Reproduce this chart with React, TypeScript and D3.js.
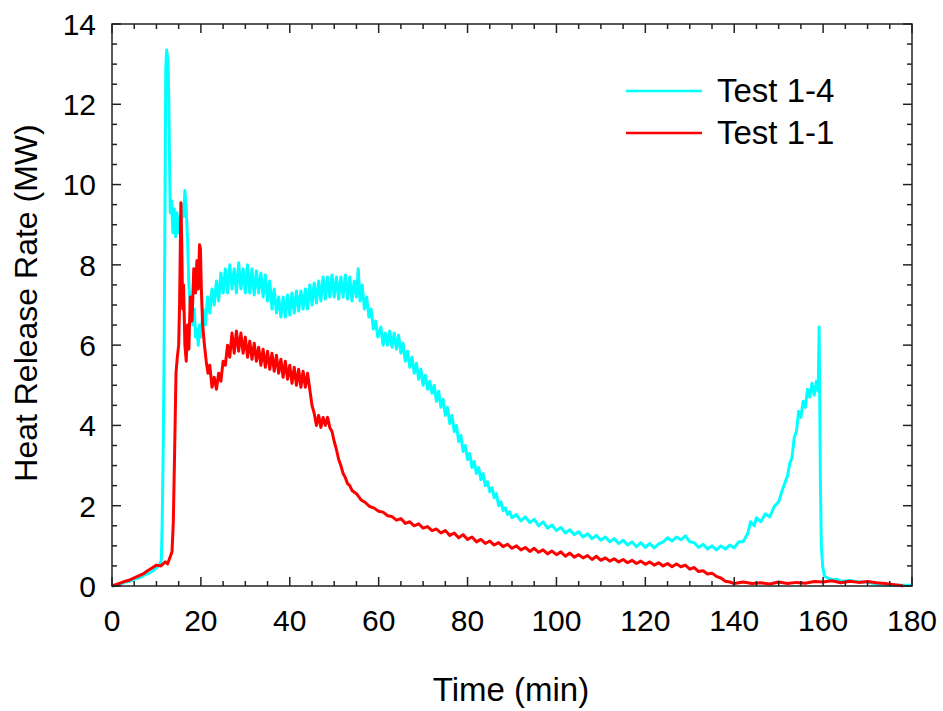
import React, { useEffect, useRef } from 'react';
import * as d3 from 'd3';

// Heat release rate readings, [time (min), HRR (MW)]
const test14: [number, number][] = [
  [0, 0], [1, 0.02], [2, 0.05], [3, 0.1], [4, 0.12], [5, 0.17], [6, 0.2], [7, 0.26], [8, 0.3], [9, 0.36],
  [10, 0.45], [10.8, 0.55], [11.1, 0.65], [11.3, 1.6], [11.5, 3.2], [11.7, 5.5], [11.9, 9.0], [12.1, 12.9],
  [12.3, 13.35], [12.6, 13.1], [12.8, 12.0], [12.95, 10.5], [13.1, 9.3], [13.4, 9.6], [13.7, 8.8], [14.0, 9.4],
  [14.3, 8.7], [14.6, 9.3], [14.9, 8.8], [15.2, 9.2], [15.5, 8.9], [15.8, 9.5], [16.1, 9.2], [16.4, 9.85],
  [16.7, 9.4], [17.0, 8.6], [17.3, 7.5], [17.6, 7.0], [17.9, 6.7], [18.2, 6.5], [18.5, 6.9], [18.8, 6.2],
  [19.1, 6.4], [19.4, 6.0], [19.7, 6.5], [20.0, 6.2], [20.5, 6.9], [21.0, 6.5], [21.5, 7.2], [22, 6.8],
  [22.5, 7.4], [23, 7.0], [23.5, 7.6], [24, 7.1], [24.5, 7.8], [25, 7.3], [25.5, 7.9], [26, 7.3], [26.5, 8.0],
  [27, 7.4], [27.5, 7.9], [28, 7.3], [28.5, 8.05], [29, 7.4], [29.5, 7.9], [30, 7.3], [30.5, 8.0], [31, 7.3],
  [31.5, 7.9], [32, 7.25], [32.5, 7.85], [33, 7.3], [33.5, 7.8], [34, 7.2], [34.5, 7.75], [35, 7.1], [35.5, 7.6],
  [36, 6.9], [36.5, 7.4], [37, 6.8], [37.5, 7.2], [38, 6.7], [38.5, 7.2], [39, 6.7], [39.5, 7.25], [40, 6.75],
  [40.5, 7.3], [41, 6.8], [41.5, 7.35], [42, 6.85], [42.5, 7.35], [43, 6.9], [43.5, 7.4], [44, 6.9], [44.5, 7.5],
  [45, 7.0], [45.5, 7.55], [46, 7.05], [46.5, 7.6], [47, 7.1], [47.5, 7.7], [48, 7.15], [48.5, 7.7], [49, 7.2],
  [49.5, 7.75], [50, 7.2], [50.5, 7.7], [51, 7.15], [51.5, 7.7], [52, 7.2], [52.5, 7.75], [53, 7.15], [53.5, 7.7],
  [54, 7.1], [54.5, 7.6], [55, 7.2], [55.4, 7.9], [55.8, 7.1], [56.3, 7.5], [56.8, 6.9], [57.3, 7.2], [57.8, 6.7],
  [58.3, 6.9], [58.8, 6.4], [59.3, 6.6], [59.8, 6.2], [60.5, 6.45], [61, 6.0], [61.5, 6.3], [62, 6.0], [62.5, 6.35],
  [63, 5.95], [63.5, 6.3], [64, 5.9], [64.5, 6.25], [65, 5.8], [65.5, 6.05], [66, 5.6], [66.5, 5.85], [67, 5.45],
  [67.5, 5.7], [68, 5.3], [68.5, 5.55], [69, 5.15], [69.5, 5.4], [70, 5.0], [70.5, 5.25], [71, 4.9], [71.5, 5.1],
  [72, 4.8], [72.5, 5.0], [73, 4.6], [73.5, 4.85], [74, 4.45], [74.5, 4.65], [75, 4.25], [75.5, 4.45], [76, 4.05],
  [76.5, 4.25], [77, 3.85], [77.5, 4.0], [78, 3.6], [78.5, 3.75], [79, 3.35], [79.5, 3.5], [80, 3.15], [80.5, 3.3],
  [81, 2.95], [81.5, 3.1], [82, 2.8], [82.5, 2.95], [83, 2.65], [83.5, 2.8], [84, 2.5], [84.5, 2.6], [85, 2.35],
  [85.5, 2.45], [86, 2.2], [86.5, 2.3], [87, 2.0], [87.5, 2.1], [88, 1.88], [88.5, 1.95], [89, 1.78], [89.5, 1.85],
  [90, 1.7], [91, 1.78], [92, 1.62], [93, 1.72], [94, 1.58], [95, 1.66], [96, 1.5], [97, 1.6], [98, 1.44],
  [99, 1.52], [100, 1.38], [101, 1.46], [102, 1.32], [103, 1.4], [104, 1.28], [105, 1.35], [106, 1.22], [107, 1.3],
  [108, 1.18], [109, 1.26], [110, 1.14], [111, 1.22], [112, 1.1], [113, 1.18], [114, 1.06], [115, 1.14], [116, 1.02],
  [117, 1.1], [118, 0.98], [119, 1.08], [120, 0.96], [121, 1.06], [122, 0.95], [123, 1.05], [124, 1.1], [125, 1.2],
  [126, 1.12], [127, 1.22], [128, 1.15], [129, 1.25], [130, 1.1], [131, 1.08], [132, 0.96], [133, 1.04], [134, 0.92],
  [135, 1.0], [136, 0.9], [137, 1.0], [138, 0.92], [139, 1.02], [140, 0.95], [141, 1.1], [142, 1.1], [143, 1.3],
  [143.7, 1.6], [144.5, 1.5], [145, 1.7], [146, 1.6], [147, 1.8], [148, 1.72], [149, 1.98], [150, 2.1], [151, 2.45],
  [152, 2.75], [152.5, 3.05], [153, 3.2], [153.5, 3.7], [154, 3.85], [154.5, 4.35], [155, 4.2], [155.5, 4.6],
  [156, 4.45], [156.5, 4.9], [157, 4.7], [157.5, 5.05], [158, 4.75], [158.5, 5.1], [158.9, 4.85], [159.1, 6.45],
  [159.25, 4.5], [159.4, 2.5], [159.6, 1.0], [159.9, 0.5], [160.3, 0.25], [161, 0.2], [162, 0.15], [163, 0.17],
  [164, 0.12], [166, 0.14], [168, 0.1], [170, 0.1], [172, 0.05], [174, 0.02], [177, 0.02], [180, 0.02],
];

const test11: [number, number][] = [
  [0, 0], [1, 0.04], [2, 0.08], [3, 0.12], [4, 0.15], [5, 0.2], [6, 0.25], [7, 0.3], [8, 0.38], [9, 0.45],
  [10, 0.52], [11, 0.5], [12, 0.6], [12.5, 0.55], [13, 0.7], [13.5, 0.85], [13.8, 1.6], [14.1, 3.4], [14.4, 5.3],
  [14.7, 5.7], [15.0, 6.0], [15.2, 7.0], [15.5, 9.55], [15.7, 8.5], [15.9, 6.9], [16.1, 7.5], [16.4, 6.0],
  [16.7, 5.6], [17.0, 6.5], [17.3, 5.9], [17.6, 7.2], [18.0, 6.6], [18.4, 7.9], [18.8, 7.3], [19.1, 8.1],
  [19.4, 7.4], [19.7, 8.5], [19.9, 8.4], [20.1, 7.4], [20.4, 6.5], [20.8, 6.0], [21.2, 5.6], [21.6, 5.3], [22, 5.5],
  [22.5, 4.95], [23, 5.2], [23.5, 4.9], [24, 5.3], [24.5, 5.1], [25, 5.6], [25.5, 5.5], [26, 6.0], [26.5, 5.7],
  [27, 6.3], [27.5, 5.8], [28, 6.35], [28.5, 5.85], [29, 6.3], [29.5, 5.8], [30, 6.2], [30.5, 5.7], [31, 6.1],
  [31.5, 5.65], [32, 6.05], [32.5, 5.6], [33, 5.95], [33.5, 5.5], [34, 5.9], [34.5, 5.45], [35, 5.85], [35.5, 5.4],
  [36, 5.8], [36.5, 5.35], [37, 5.75], [37.5, 5.3], [38, 5.65], [38.5, 5.2], [39, 5.6], [39.5, 5.15], [40, 5.5],
  [40.5, 5.05], [41, 5.45], [41.5, 5.0], [42, 5.4], [42.5, 4.95], [43, 5.35], [43.5, 4.95], [44, 5.3], [44.5, 4.9],
  [45, 4.5], [45.5, 4.3], [46, 4.0], [46.5, 4.25], [47, 3.95], [47.5, 4.2], [48, 4.0], [48.5, 4.2], [49, 3.95],
  [49.5, 3.85], [50, 3.6], [50.5, 3.4], [51, 3.15], [51.5, 3.0], [52, 2.8], [52.5, 2.7], [53, 2.55], [53.5, 2.5],
  [54, 2.38], [55, 2.3], [56, 2.15], [57, 2.08], [58, 1.98], [59, 1.94], [60, 1.86], [61, 1.84], [62, 1.75],
  [63, 1.73], [64, 1.64], [65, 1.68], [66, 1.56], [67, 1.6], [68, 1.5], [69, 1.55], [70, 1.44], [71, 1.48],
  [72, 1.38], [73, 1.42], [74, 1.32], [75, 1.38], [76, 1.26], [77, 1.32], [78, 1.2], [79, 1.28], [80, 1.16],
  [81, 1.22], [82, 1.1], [83, 1.16], [84, 1.06], [85, 1.12], [86, 1.02], [87, 1.08], [88, 0.98], [89, 1.04],
  [90, 0.94], [91, 1.0], [92, 0.9], [93, 0.96], [94, 0.86], [95, 0.94], [96, 0.84], [97, 0.9], [98, 0.8],
  [99, 0.87], [100, 0.78], [101, 0.85], [102, 0.74], [103, 0.82], [104, 0.72], [105, 0.78], [106, 0.7], [107, 0.76],
  [108, 0.66], [109, 0.74], [110, 0.64], [111, 0.7], [112, 0.62], [113, 0.68], [114, 0.6], [115, 0.66], [116, 0.58],
  [117, 0.64], [118, 0.56], [119, 0.62], [120, 0.54], [121, 0.6], [122, 0.52], [123, 0.58], [124, 0.5], [125, 0.56],
  [126, 0.48], [127, 0.55], [128, 0.48], [129, 0.52], [130, 0.42], [131, 0.46], [132, 0.36], [133, 0.38], [134, 0.3],
  [135, 0.32], [136, 0.24], [137, 0.2], [138, 0.12], [139, 0.1], [140, 0.06], [142, 0.1], [144, 0.06], [146, 0.08],
  [148, 0.05], [150, 0.1], [152, 0.06], [154, 0.09], [156, 0.07], [158, 0.11], [160, 0.1], [162, 0.13], [164, 0.08],
  [166, 0.12], [168, 0.09], [170, 0.11], [172, 0.08], [174, 0.06], [176, 0.03], [177.5, 0.01], [178, 0],
];

const xTicks = [0, 20, 40, 60, 80, 100, 120, 140, 160, 180];
const yTicks = [0, 2, 4, 6, 8, 10, 12, 14];
const seriesNames = ['Test 1-4', 'Test 1-1'];
const seriesColors = ['#00ffff', '#ff0000'];

function App() {
  const ref = useRef<SVGSVGElement>(null);

  useEffect(() => {
    const svg = d3.select(ref.current);
    svg.selectAll('*').remove();

    const left = 112, right = 912, top = 24, bottom = 586;
    const font = '"Liberation Sans", Arial, sans-serif';
    const axisColor = '#222';

    const x = d3.scaleLinear().domain([0, 180]).range([left, right]);
    const y = d3.scaleLinear().domain([0, 14]).range([bottom, top]);

    const line = d3.line<[number, number]>()
      .x(d => x(d[0]))
      .y(d => y(d[1]));

    // curves
    [test14, test11].forEach((data, i) => {
      svg.append('path')
        .datum(data)
        .attr('fill', 'none')
        .attr('stroke', seriesColors[i])
        .attr('stroke-width', 3)
        .attr('stroke-linejoin', 'round')
        .attr('d', line);
    });

    // ticks on all four sides, pointing in
    const g = svg.append('g').attr('stroke', axisColor).attr('stroke-width', 1.5);
    d3.range(0, 181, 5).forEach(t => {
      const len = t % 20 === 0 ? 9 : 5;
      g.append('line').attr('x1', x(t)).attr('x2', x(t)).attr('y1', bottom).attr('y2', bottom - len);
      g.append('line').attr('x1', x(t)).attr('x2', x(t)).attr('y1', top).attr('y2', top + len);
    });
    d3.range(0, 14.01, 0.5).forEach(v => {
      const len = v % 2 === 0 ? 9 : 5;
      g.append('line').attr('y1', y(v)).attr('y2', y(v)).attr('x1', left).attr('x2', left + len);
      g.append('line').attr('y1', y(v)).attr('y2', y(v)).attr('x1', right).attr('x2', right - len);
    });

    svg.append('rect')
      .attr('x', left).attr('y', top)
      .attr('width', right - left).attr('height', bottom - top)
      .attr('fill', 'none').attr('stroke', axisColor).attr('stroke-width', 1.5);

    // tick labels
    svg.append('g').selectAll('text').data(xTicks).join('text')
      .attr('x', d => x(d)).attr('y', 631)
      .attr('text-anchor', 'middle')
      .attr('font-family', font).attr('font-size', 30)
      .text(d => d);

    svg.append('g').selectAll('text').data(yTicks).join('text')
      .attr('x', 96).attr('y', d => y(d)).attr('dy', '0.36em')
      .attr('text-anchor', 'end')
      .attr('font-family', font).attr('font-size', 30)
      .text(d => d);

    // axis titles
    svg.append('text')
      .attr('x', 511).attr('y', 701)
      .attr('text-anchor', 'middle')
      .attr('font-family', font).attr('font-size', 33)
      .text('Time (min)');

    svg.append('text')
      .attr('transform', `translate(37, ${(top + bottom) / 2 - 2}) rotate(-90)`)
      .attr('text-anchor', 'middle')
      .attr('font-family', font).attr('font-size', 32)
      .text('Heat Release Rate (MW)');

    // legend
    seriesNames.forEach((name, i) => {
      const ly = 91 + i * 42;
      svg.append('line')
        .attr('x1', 626).attr('x2', 702).attr('y1', ly).attr('y2', ly)
        .attr('stroke', seriesColors[i]).attr('stroke-width', 2.5);
      svg.append('text')
        .attr('x', 717).attr('y', ly).attr('dy', '0.34em')
        .attr('font-family', font).attr('font-size', 33)
        .text(name);
    });
  }, []);

  return (
    <svg ref={ref} width="943" height="711"
      style={{ position: 'absolute', left: 0, top: 0, background: '#fff' }} />
  );
}

export default App;
